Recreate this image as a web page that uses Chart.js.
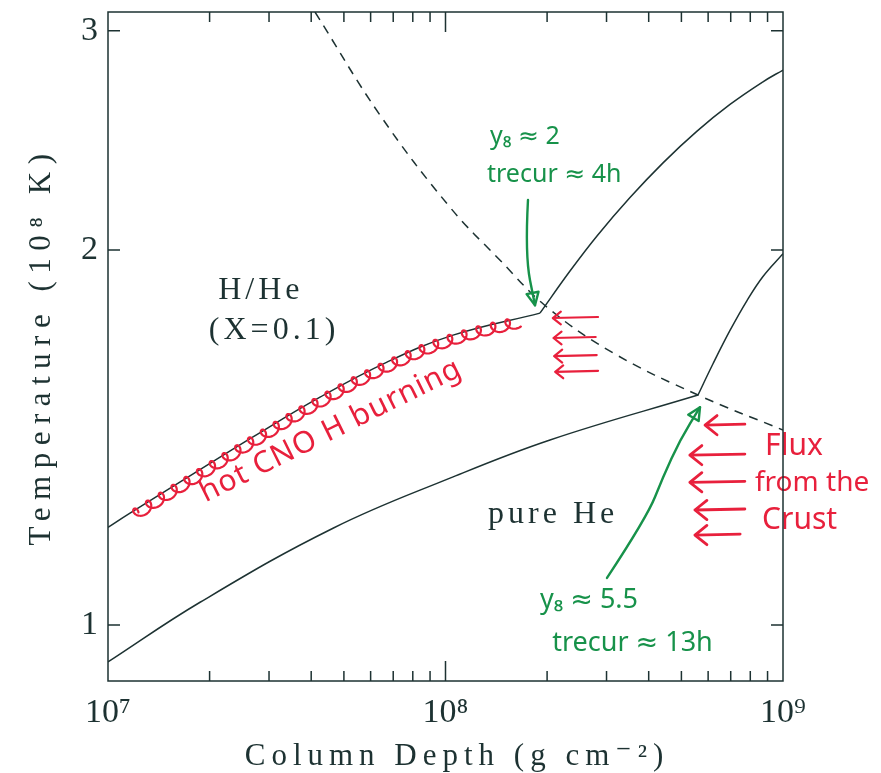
<!DOCTYPE html>
<html>
<head>
<meta charset="utf-8">
<script src="https://cdn.jsdelivr.net/npm/chart.js@4.4.0/dist/chart.umd.min.js"></script>
<style>
  html, body { margin: 0; padding: 0; background: #fff; }
</style>
</head>
<body>
<canvas id="chart" width="881" height="773"></canvas>
<script>
// Ignition curves, column depth (g cm^-2) vs temperature (10^8 K)

const INK = '#1d3232';
const RED = '#e8203c';
const GREEN = '#17924a';
const SERIF = '"Liberation Serif", "DejaVu Serif", serif';
const HAND = '"Noto Sans", "DejaVu Sans", sans-serif';
const SUP = '⁰¹²³⁴⁵⁶⁷⁸⁹';

// ─── Data ──────────────────────────────────────────────────────────────

// H/He (X=0.1) ignition, below the junction
const hheDepth = [1e7, 1.162e7, 1.715e7, 2.689e7, 4.248e7, 6.709e7, 1.053e8, 1.905e8];
const hheTemp  = [1.198, 1.230, 1.313, 1.416, 1.524, 1.626, 1.709, 1.780];

// branch above the H/He junction
const hheUpDepth = [1.905e8, 2.338e8, 2.811e8, 3.521e8, 4.411e8, 5.563e8, 6.966e8, 8.724e8, 1e9];
const hheUpTemp  = [1.780, 1.924, 2.053, 2.204, 2.350, 2.492, 2.618, 2.730, 2.790];

// pure He ignition, below the junction
const heDepth = [1e7, 1.874e7, 4.642e7, 1.031e8, 2.04e8, 5.6e8];
const heTemp  = [0.934, 1.043, 1.196, 1.312, 1.408, 1.530];

// branch above the He junction
const heUpDepth = [5.6e8, 6.203e8, 6.966e8, 7.822e8, 8.724e8, 1e9];
const heUpTemp  = [1.530, 1.621, 1.724, 1.822, 1.905, 1.987];

// dashed curve
const dashDepth = [4.105e7, 6.397e7, 1.031e8, 1.451e8, 1.998e8, 3.136e8, 5.6e8, 1e9];
const dashTemp  = [3.106, 2.567, 2.165, 1.963, 1.800, 1.654, 1.530, 1.434];

const xTicks = [1e7, 2e7, 3e7, 4e7, 5e7, 6e7, 7e7, 8e7, 9e7,
                1e8, 2e8, 3e8, 4e8, 5e8, 6e8, 7e8, 8e8, 9e8, 1e9];
const xMajor = [1e7, 1e8, 1e9];
const yTicks = [1, 2, 3];

// ─── Helpers ───────────────────────────────────────────────────────────

const pairs = (xs, ys) => xs.map((x, i) => ({ x, y: ys[i] }));

function curve(xs, ys, dashed) {
  return {
    data: pairs(xs, ys),
    showLine: true,
    borderColor: INK,
    borderWidth: 1.5,
    borderDash: dashed ? [9, 7] : [],
    pointRadius: 0,
    tension: 0.4,
  };
}

function isMajor(v) {
  return xMajor.some(m => Math.abs(m - v) / m < 1e-6);
}

// no extra room for labels hanging over the plot edges
function noOverhang(s) {
  s.paddingTop = 0; s.paddingBottom = 0;
  s.paddingLeft = 0; s.paddingRight = 0;
}

// ─── Frame: box and inward ticks on all sides ─────────────────────────

const frame = {
  id: 'frame',
  afterDraw(chart) {
    const { ctx, chartArea: a, scales: { x, y } } = chart;
    ctx.save();
    ctx.strokeStyle = INK;
    ctx.lineWidth = 1.5;
    ctx.strokeRect(a.left, a.top, a.right - a.left, a.bottom - a.top);
    ctx.beginPath();
    for (const v of xTicks) {
      const px = x.getPixelForValue(v);
      if (px <= a.left + 1 || px >= a.right - 1) continue;
      const len = isMajor(v) ? 20 : 10;
      ctx.moveTo(px, a.bottom); ctx.lineTo(px, a.bottom - len);
      ctx.moveTo(px, a.top); ctx.lineTo(px, a.top + len);
    }
    for (const v of yTicks) {
      const py = y.getPixelForValue(v);
      ctx.moveTo(a.left, py); ctx.lineTo(a.left + 12, py);
      ctx.moveTo(a.right, py); ctx.lineTo(a.right - 12, py);
    }
    ctx.stroke();

    // axis titles (wide, tracked serif)
    ctx.fillStyle = INK;
    ctx.font = `31px ${SERIF}`;
    ctx.textAlign = 'center';
    ctx.textBaseline = 'alphabetic';
    ctx.letterSpacing = '6px';
    ctx.fillText('Column Depth (g cm⁻²)', 457, 765);
    ctx.translate(50, 346);
    ctx.rotate(-Math.PI / 2);
    ctx.letterSpacing = '7.5px';
    ctx.fillText('Temperature (10⁸ K)', 0, 0);
    ctx.restore();
  }
};

// ─── Hand-drawn notes ─────────────────────────────────────────────────

const notes = {
  id: 'notes',
  afterDatasetsDraw(chart) {
    const { ctx, scales: { x, y } } = chart;
    const at = (lx, t) => [x.getPixelForValue(10 ** lx), y.getPixelForValue(t)];
    ctx.save();
    ctx.lineCap = 'round';
    ctx.lineJoin = 'round';

    // loops along the H/He curve: sample the drawn bezier
    const pts = chart.getDatasetMeta(0).data;
    const path = [];
    for (let i = 0; i < pts.length - 1; i++) {
      const p0 = pts[i], p1 = pts[i + 1];
      const c1x = p0.cp2x ?? p0.x, c1y = p0.cp2y ?? p0.y;
      const c2x = p1.cp1x ?? p1.x, c2y = p1.cp1y ?? p1.y;
      for (let k = 0; k < 40; k++) {
        const t = k / 40, u = 1 - t;
        path.push([
          u * u * u * p0.x + 3 * u * u * t * c1x + 3 * u * t * t * c2x + t * t * t * p1.x,
          u * u * u * p0.y + 3 * u * u * t * c1y + 3 * u * t * t * c2y + t * t * t * p1.y,
        ]);
      }
    }
    const [x0] = at(7.074, 1), [x1] = at(8.212, 1);
    ctx.strokeStyle = RED;
    ctx.lineWidth = 2.2;
    ctx.beginPath();
    let s = 0, first = true;
    for (let i = 1; i < path.length; i++) {
      const [ax, ay] = path[i - 1], [bx, by] = path[i];
      if (bx < x0 || bx > x1) continue;
      const dx = bx - ax, dy = by - ay, L = Math.hypot(dx, dy) || 1;
      const tx = dx / L, ty = dy / L, nx = ty, ny = -tx;
      const steps = Math.max(1, Math.round(L / 0.5));
      for (let k = 0; k < steps; k++) {
        const f = k / steps;
        const px = ax + dx * f, py = ay + dy * f;
        const th = 2 * Math.PI * s / 15;
        const qx = px + tx * 5.5 * Math.cos(th) + nx * (-4 + 5.5 * Math.sin(th));
        const qy = py + ty * 5.5 * Math.cos(th) + ny * (-4 + 5.5 * Math.sin(th));
        if (first) { ctx.moveTo(qx, qy); first = false; } else ctx.lineTo(qx, qy);
        s += L / steps;
      }
    }
    ctx.stroke();

    // red left-pointing arrows
    const leftArrow = (tipLx, tailLx, t, head, w) => {
      const [tx, ty] = at(tipLx, t), [sx] = at(tailLx, t);
      ctx.lineWidth = w;
      ctx.beginPath();
      ctx.moveTo(sx, ty - 1); ctx.lineTo(tx, ty);
      ctx.moveTo(tx + head, ty - head * 0.8); ctx.lineTo(tx, ty); ctx.lineTo(tx + head, ty + head * 0.8);
      ctx.stroke();
    };
    leftArrow(8.769, 8.887, 1.447, 12, 2.8);
    leftArrow(8.724, 8.887, 1.369, 12, 2.8);
    leftArrow(8.724, 8.887, 1.302, 12, 2.8);
    leftArrow(8.739, 8.887, 1.237, 12, 2.8);
    leftArrow(8.739, 8.873, 1.181, 12, 2.8);
    leftArrow(8.318, 8.452, 1.764, 8, 2.2);
    leftArrow(8.320, 8.445, 1.700, 8, 2.2);
    leftArrow(8.322, 8.448, 1.644, 8, 2.2);
    leftArrow(8.325, 8.452, 1.597, 8, 2.2);

    // green arrows
    const greenArrow = (list) => {
      const p = list.map(([lx, t]) => at(lx, t));
      ctx.strokeStyle = GREEN;
      ctx.lineWidth = 2.4;
      ctx.beginPath();
      ctx.moveTo(p[0][0], p[0][1]);
      for (let i = 1; i < p.length - 1; i++) {
        const mx = (p[i][0] + p[i + 1][0]) / 2, my = (p[i][1] + p[i + 1][1]) / 2;
        ctx.quadraticCurveTo(p[i][0], p[i][1], mx, my);
      }
      const e = p[p.length - 1], b = p[p.length - 2];
      ctx.lineTo(e[0], e[1]);
      ctx.stroke();
      const ang = Math.atan2(e[1] - b[1], e[0] - b[0]);
      ctx.beginPath();
      ctx.moveTo(e[0], e[1]);
      ctx.lineTo(e[0] - 14 * Math.cos(ang - 0.45), e[1] - 14 * Math.sin(ang - 0.45));
      ctx.lineTo(e[0] - 14 * Math.cos(ang + 0.45), e[1] - 14 * Math.sin(ang + 0.45));
      ctx.closePath();
      ctx.stroke();
    };
    greenArrow([[8.2444, 2.194], [8.2356, 1.982], [8.2652, 1.806]]);
    greenArrow([[8.4785, 1.091], [8.597, 1.221], [8.6444, 1.315], [8.6948, 1.408], [8.7541, 1.496]]);

    // text
    const text = (str, lx, t, size, font, color, align, rot, spacing) => {
      const [px, py] = at(lx, t);
      ctx.save();
      ctx.translate(px, py);
      ctx.rotate(rot || 0);
      ctx.font = `${size}px ${font}`;
      ctx.fillStyle = color;
      ctx.textAlign = align;
      ctx.textBaseline = 'middle';
      ctx.letterSpacing = spacing || '0px';
      ctx.fillText(str, 0, 0);
      ctx.restore();
    };
    text('H/He', 7.453, 1.857, 32, SERIF, INK, 'center', 0, '4px');
    text('(X=0.1)', 7.492, 1.725, 32, SERIF, INK, 'center', 0, '4px');
    text('pure He', 8.319, 1.226, 32, SERIF, INK, 'center', 0, '4px');
    text('hot CNO H burning', 7.66, 1.432, 30, HAND, RED, 'center', -0.46, '1px');
    text('y₈ ≈ 2', 8.132, 2.465, 25, HAND, GREEN, 'left');
    text('trecur ≈ 4h', 8.123, 2.297, 25, HAND, GREEN, 'left');
    text('y₈ ≈ 5.5', 8.28, 1.047, 27, HAND, GREEN, 'left');
    text('trecur ≈ 13h', 8.316, 0.9673, 27, HAND, GREEN, 'left');
    text('Flux', 8.947, 1.390, 30, HAND, RED, 'left');
    text('from the', 8.917, 1.300, 28, HAND, RED, 'left');
    text('Crust', 8.938, 1.214, 30, HAND, RED, 'left');
    ctx.restore();
  }
};

// ─── Chart ─────────────────────────────────────────────────────────────

new Chart(document.getElementById('chart').getContext('2d'), {
  type: 'scatter',
  data: {
    datasets: [
      curve(hheDepth, hheTemp),
      curve(hheUpDepth, hheUpTemp),
      curve(heDepth, heTemp),
      curve(heUpDepth, heUpTemp),
      curve(dashDepth, dashTemp, true),
    ]
  },
  options: {
    responsive: false,
    animation: false,
    layout: { padding: { top: 12, right: 98, left: 0, bottom: 0 } },
    plugins: { legend: { display: false }, tooltip: { enabled: false } },
    scales: {
      x: {
        type: 'logarithmic',
        min: 1e7,
        max: 1e9,
        afterBuildTicks: s => { s.ticks = xTicks.map(v => ({ value: v })); },
        afterFit: s => { s.height = 92; noOverhang(s); },
        grid: { display: false, drawTicks: false },
        border: { display: false },
        ticks: {
          autoSkip: false,
          maxRotation: 0,
          padding: 12,
          color: INK,
          font: { family: SERIF, size: 34 },
          callback: v => isMajor(v) ? '10' + SUP[Math.round(Math.log10(v))] : '',
        },
      },
      y: {
        type: 'logarithmic',
        min: 0.9017,
        max: 3.106,
        afterBuildTicks: s => { s.ticks = yTicks.map(v => ({ value: v })); },
        afterFit: s => { s.width = 108; noOverhang(s); },
        grid: { display: false, drawTicks: false },
        border: { display: false },
        ticks: {
          padding: 10,
          color: INK,
          font: { family: SERIF, size: 34 },
          callback: v => String(v),
        },
      },
    },
  },
  plugins: [frame, notes],
});
</script>
</body>
</html>
